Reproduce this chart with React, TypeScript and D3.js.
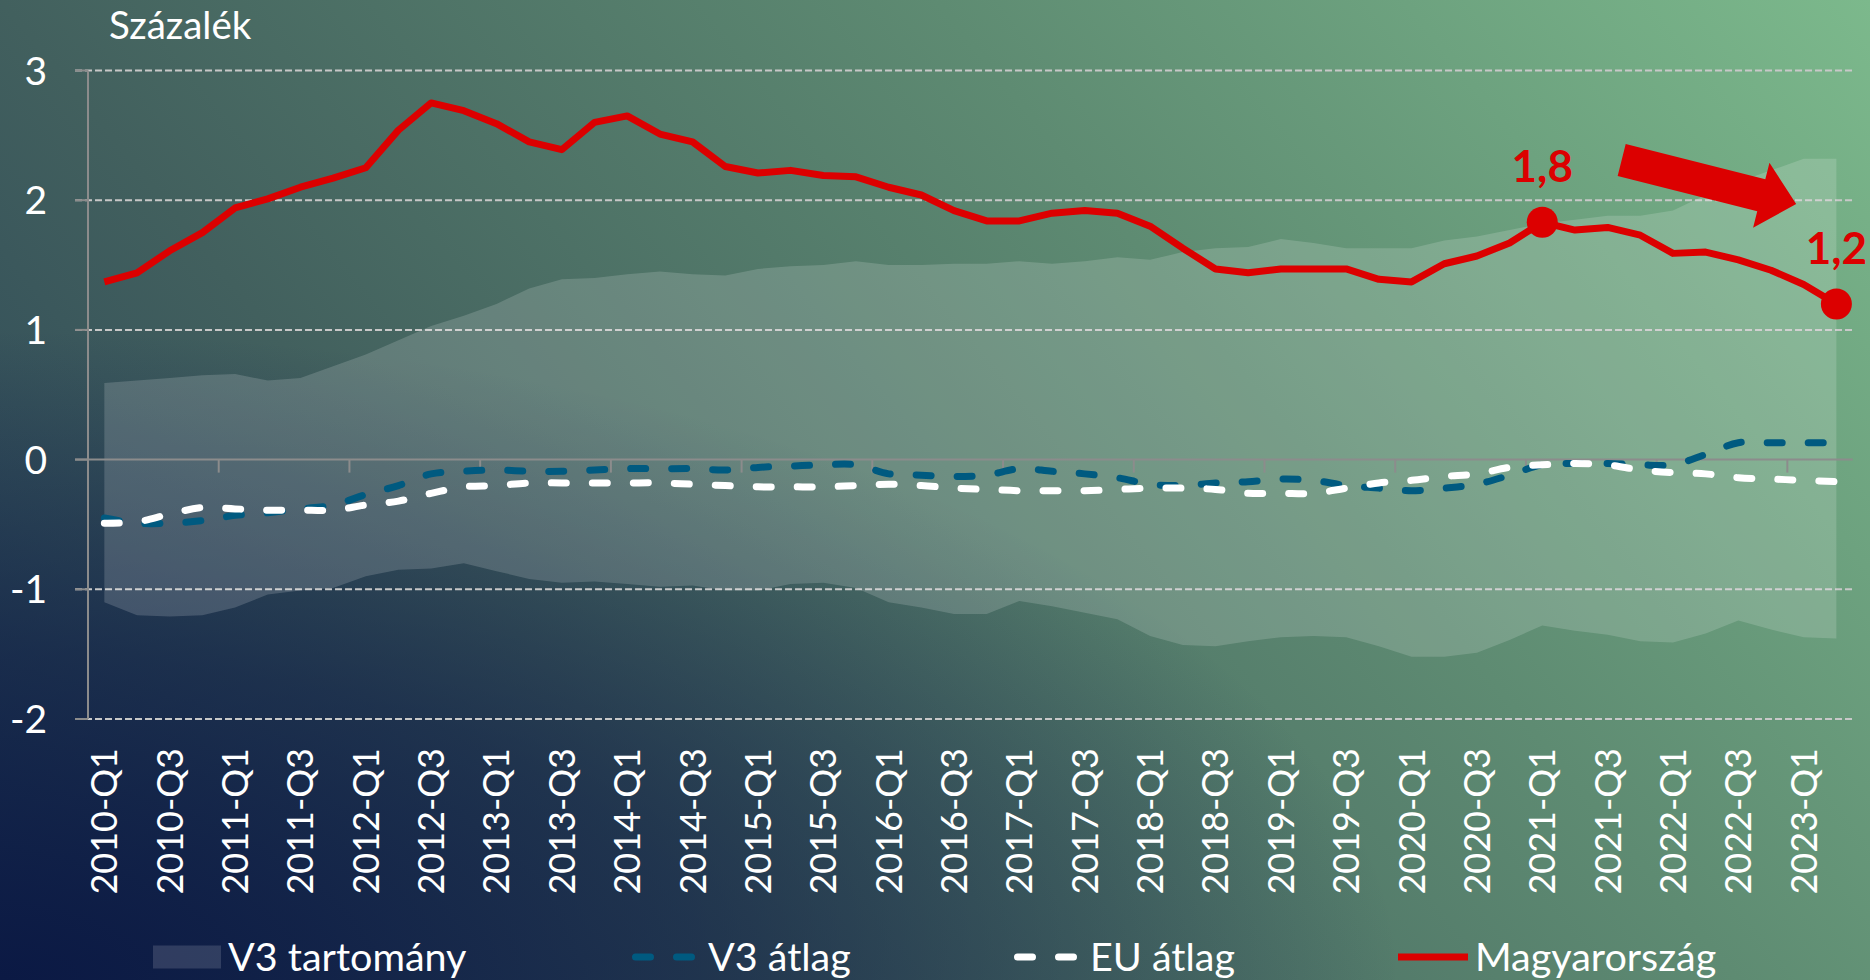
import React from "react";
import * as d3 from "d3";

const categories = [
  "2010-Q1","2010-Q2","2010-Q3","2010-Q4","2011-Q1","2011-Q2","2011-Q3","2011-Q4",
  "2012-Q1","2012-Q2","2012-Q3","2012-Q4","2013-Q1","2013-Q2","2013-Q3","2013-Q4",
  "2014-Q1","2014-Q2","2014-Q3","2014-Q4","2015-Q1","2015-Q2","2015-Q3","2015-Q4",
  "2016-Q1","2016-Q2","2016-Q3","2016-Q4","2017-Q1","2017-Q2","2017-Q3","2017-Q4",
  "2018-Q1","2018-Q2","2018-Q3","2018-Q4","2019-Q1","2019-Q2","2019-Q3","2019-Q4",
  "2020-Q1","2020-Q2","2020-Q3","2020-Q4","2021-Q1","2021-Q2","2021-Q3","2021-Q4",
  "2022-Q1","2022-Q2","2022-Q3","2022-Q4","2023-Q1","2023-Q2",
];

const magyarorszag = [
  1.37, 1.44, 1.61, 1.75, 1.94, 2.01, 2.10, 2.17, 2.25, 2.54, 2.75,
  2.69, 2.59, 2.45, 2.39, 2.60, 2.65, 2.51, 2.45,
  2.26, 2.21, 2.23, 2.19, 2.18, 2.10, 2.04, 1.92, 1.84, 1.84,
  1.90, 1.92, 1.90, 1.80, 1.63, 1.47, 1.44, 1.47,
  1.47, 1.47, 1.39, 1.37, 1.51, 1.57, 1.67, 1.83,
  1.77, 1.79, 1.73, 1.59, 1.60, 1.54, 1.46, 1.35, 1.20,
];

const v3Upper = [
  0.59, 0.61, 0.63, 0.65, 0.66, 0.61, 0.63, 0.72, 0.81, 0.92, 1.03, 1.11, 1.20, 1.32, 1.39, 1.40, 1.43, 1.45, 1.43,
  1.42, 1.47, 1.49, 1.50, 1.53, 1.50, 1.50, 1.51, 1.51, 1.53, 1.51, 1.53, 1.56, 1.54, 1.60, 1.63, 1.64, 1.70,
  1.67, 1.63, 1.63, 1.63, 1.69, 1.72, 1.77, 1.82, 1.85, 1.88, 1.88, 1.92, 2.04, 2.14, 2.23, 2.32, 2.32,
];

const v3Lower = [
  -1.10, -1.20, -1.21, -1.20, -1.14, -1.04, -1.01, -0.99, -0.90, -0.85, -0.84, -0.80, -0.86, -0.92, -0.95, -0.94, -0.96, -0.98, -0.97,
  -1.01, -1.01, -0.96, -0.95, -0.99, -1.10, -1.14, -1.19, -1.19, -1.09, -1.13, -1.18, -1.23, -1.36, -1.43, -1.44, -1.40, -1.37,
  -1.36, -1.37, -1.44, -1.52, -1.52, -1.49, -1.39, -1.28, -1.32, -1.35, -1.40, -1.41, -1.34, -1.24, -1.31, -1.37, -1.38,
];

const v3Atlag = [
  -0.45, -0.49, -0.49, -0.47, -0.43, -0.41, -0.38, -0.35, -0.27, -0.20, -0.11, -0.09, -0.08, -0.09, -0.09, -0.08, -0.07, -0.07, -0.07,
  -0.08, -0.06, -0.05, -0.04, -0.04, -0.11, -0.12, -0.13, -0.12, -0.07, -0.09, -0.11, -0.14, -0.19, -0.20, -0.18, -0.17, -0.15,
  -0.16, -0.20, -0.22, -0.24, -0.22, -0.19, -0.12, -0.04, -0.03, -0.03, -0.04, -0.04, 0.04, 0.13, 0.13, 0.13, 0.13,
];

const euAtlag = [
  -0.49, -0.48, -0.42, -0.37, -0.38, -0.39, -0.39, -0.39, -0.35, -0.32, -0.26, -0.21, -0.20, -0.18, -0.18, -0.18, -0.18, -0.18, -0.19,
  -0.20, -0.21, -0.21, -0.21, -0.20, -0.19, -0.20, -0.22, -0.23, -0.24, -0.24, -0.24, -0.23, -0.22, -0.22, -0.23, -0.26, -0.26,
  -0.26, -0.22, -0.18, -0.16, -0.13, -0.11, -0.06, -0.04, -0.03, -0.04, -0.08, -0.10, -0.11, -0.14, -0.15, -0.16, -0.17,
];

const yTicks = [-2, -1, 0, 1, 2, 3];
const xLabelStep = 2;
const xTickStep = 4;
const highlights = [
  { index: 44, label: "1,8" },
  { index: 53, label: "1,2" },
];
const arrowFrom = { index: 46.43, value: 2.309 };
const arrowTo = { index: 51.77, value: 1.97 };

const legendItems = [
  { key: "band", label: "V3 tartomány", x: 153 },
  { key: "v3", label: "V3 átlag", x: 632 },
  { key: "eu", label: "EU átlag", x: 1014 },
  { key: "hu", label: "Magyarország", x: 1398 },
];

const W = 1870;
const H = 980;
const FONT = "Lato, 'Open Sans', sans-serif";
const RED = "#dc0000";
const BLUE = "#005a80";

export default function App() {
  const x = d3.scaleBand<string>().domain(categories).range([88, 88 + 54 * 32.68]).padding(0);
  const bw = x.bandwidth();
  const cx = (i: number) => (x(categories[0]) as number) + bw * (i + 0.5);
  const y = d3.scaleLinear().domain([-2, 3]).range([719, 70.5]);
  const left = 75;
  const right = x.range()[1];

  const area = d3
    .area<number>()
    .x((_, i) => cx(i))
    .y0((_, i) => y(v3Lower[i]))
    .y1((d) => y(d))
    .curve(d3.curveLinear);

  const smooth = d3
    .line<number>()
    .x((_, i) => cx(i))
    .y((d) => y(d))
    .curve(d3.curveCatmullRom.alpha(0.5));

  const straight = d3
    .line<number>()
    .x((_, i) => cx(i))
    .y((d) => y(d))
    .curve(d3.curveLinear);

  const ax0 = cx(arrowFrom.index), ay0 = y(arrowFrom.value);
  const ax1 = cx(arrowTo.index), ay1 = y(arrowTo.value);
  const len = Math.hypot(ax1 - ax0, ay1 - ay0);
  const ux = (ax1 - ax0) / len, uy = (ay1 - ay0) / len;
  const px = -uy, py = ux;
  const shaftHalf = 16.5, headHalf = 33.5, headLen = 36;
  const bx = ax1 - ux * headLen, by = ay1 - uy * headLen;
  const arrowPts = [
    [ax0 + px * shaftHalf, ay0 + py * shaftHalf],
    [bx + px * shaftHalf, by + py * shaftHalf],
    [bx + px * headHalf, by + py * headHalf],
    [ax1, ay1],
    [bx - px * headHalf, by - py * headHalf],
    [bx - px * shaftHalf, by - py * shaftHalf],
    [ax0 - px * shaftHalf, ay0 - py * shaftHalf],
  ]
    .map((p) => p.join(","))
    .join(" ");

  const xTickPositions: number[] = [];
  for (let k = xTickStep; k <= categories.length; k += xTickStep) {
    xTickPositions.push((x(categories[0]) as number) + bw * k);
  }

  const legendY = 957;

  return (
    <svg
      width={W}
      height={H}
      style={{ position: "fixed", left: 0, top: 0, display: "block" }}
      fontFamily={FONT}
    >
      <defs>
        <linearGradient id="bg" gradientUnits="userSpaceOnUse" x1={0} y1={980} x2={1602} y2={-330}>
          <stop offset="0" stopColor="#243e55" />
          <stop offset="0.15" stopColor="#34505a" />
          <stop offset="0.3" stopColor="#42605e" />
          <stop offset="0.65" stopColor="#5e8b72" />
          <stop offset="1" stopColor="#7cb98c" />
        </linearGradient>
        <radialGradient
          id="navy"
          gradientUnits="userSpaceOnUse"
          cx={0}
          cy={0}
          r={1}
          gradientTransform="translate(0,980) scale(1400,650)"
        >
          <stop offset="0" stopColor="#0b1944" stopOpacity={1} />
          <stop offset="0.5" stopColor="#0b1944" stopOpacity={0.6} />
          <stop offset="1" stopColor="#0b1944" stopOpacity={0} />
        </radialGradient>
      </defs>
      <rect x={0} y={0} width={W} height={H} fill="url(#bg)" />
      <rect x={0} y={0} width={W} height={H} fill="url(#navy)" />

      {yTicks.map((t) =>
        t === 0 ? null : (
          <line
            key={"g" + t}
            x1={left}
            x2={right}
            y1={y(t)}
            y2={y(t)}
            stroke="#c8c8c8"
            strokeWidth={2}
            strokeDasharray="7 3"
          />
        )
      )}

      <path d={area(v3Upper) || ""} fill="#ffffff" fillOpacity={0.16} />

      <line x1={88} x2={88} y1={y(3)} y2={y(-2)} stroke="#8c8c8c" strokeWidth={2} />
      {yTicks.map((t) => (
        <line key={"yt" + t} x1={left} x2={88} y1={y(t)} y2={y(t)} stroke="#8c8c8c" strokeWidth={2} />
      ))}
      <line x1={left} x2={right} y1={y(0)} y2={y(0)} stroke="#8c8c8c" strokeWidth={2} />
      {xTickPositions.map((p, i) => (
        <line key={"xt" + i} x1={p} x2={p} y1={y(0)} y2={y(0) + 13} stroke="#8c8c8c" strokeWidth={2} />
      ))}

      <path
        d={smooth(v3Atlag) || ""}
        fill="none"
        stroke={BLUE}
        strokeWidth={7}
        strokeDasharray="15 26"
        strokeLinecap="round"
      />
      <path
        d={smooth(euAtlag) || ""}
        fill="none"
        stroke="#ffffff"
        strokeWidth={7}
        strokeDasharray="15 26"
        strokeLinecap="round"
      />
      <path
        d={straight(magyarorszag) || ""}
        fill="none"
        stroke={RED}
        strokeWidth={7}
        strokeLinejoin="round"
      />

      {highlights.map((h) => (
        <g key={h.label}>
          <circle cx={cx(h.index)} cy={y(magyarorszag[h.index])} r={15.5} fill={RED} />
          <text
            x={cx(h.index)}
            y={y(magyarorszag[h.index]) - 40}
            textAnchor="middle"
            fill={RED}
            fontWeight="bold"
            fontSize={44}
          >
            {h.label}
          </text>
        </g>
      ))}
      <polygon points={arrowPts} fill={RED} />

      {yTicks.map((t) => (
        <text
          key={"yl" + t}
          x={47}
          y={y(t)}
          dy="0.36em"
          textAnchor="end"
          fill="#ffffff"
          fontSize={39}
        >
          {t}
        </text>
      ))}
      <text x={109} y={39} fill="#ffffff" fontSize={38.5}>
        Százalék
      </text>

      {categories.map((c, i) =>
        i % xLabelStep === 0 ? (
          <text
            key={c}
            transform={`translate(${cx(i)},748) rotate(-90)`}
            dy="0.36em"
            textAnchor="end"
            fill="#ffffff"
            fontSize={36}
          >
            {c}
          </text>
        ) : null
      )}

      {legendItems.map((it) => {
        let sym: React.ReactNode = null;
        if (it.key === "band") {
          sym = <rect x={it.x} y={legendY - 11.5} width={68} height={23} fill="#ffffff" fillOpacity={0.14} />;
        } else if (it.key === "v3" || it.key === "eu") {
          sym = (
            <line
              x1={it.x + 3.5}
              x2={it.x + 60}
              y1={legendY}
              y2={legendY}
              stroke={it.key === "v3" ? BLUE : "#ffffff"}
              strokeWidth={7}
              strokeDasharray="15 26"
              strokeLinecap="round"
            />
          );
        } else {
          sym = <line x1={it.x} x2={it.x + 70} y1={legendY} y2={legendY} stroke={RED} strokeWidth={7} />;
        }
        return (
          <g key={it.key}>
            {sym}
            <text
              x={it.x + (it.key === "band" ? 75 : it.key === "hu" ? 77 : 76)}
              y={legendY}
              dy="0.36em"
              fill="#ffffff"
              fontSize={39.5}
            >
              {it.label}
            </text>
          </g>
        );
      })}
    </svg>
  );
}
